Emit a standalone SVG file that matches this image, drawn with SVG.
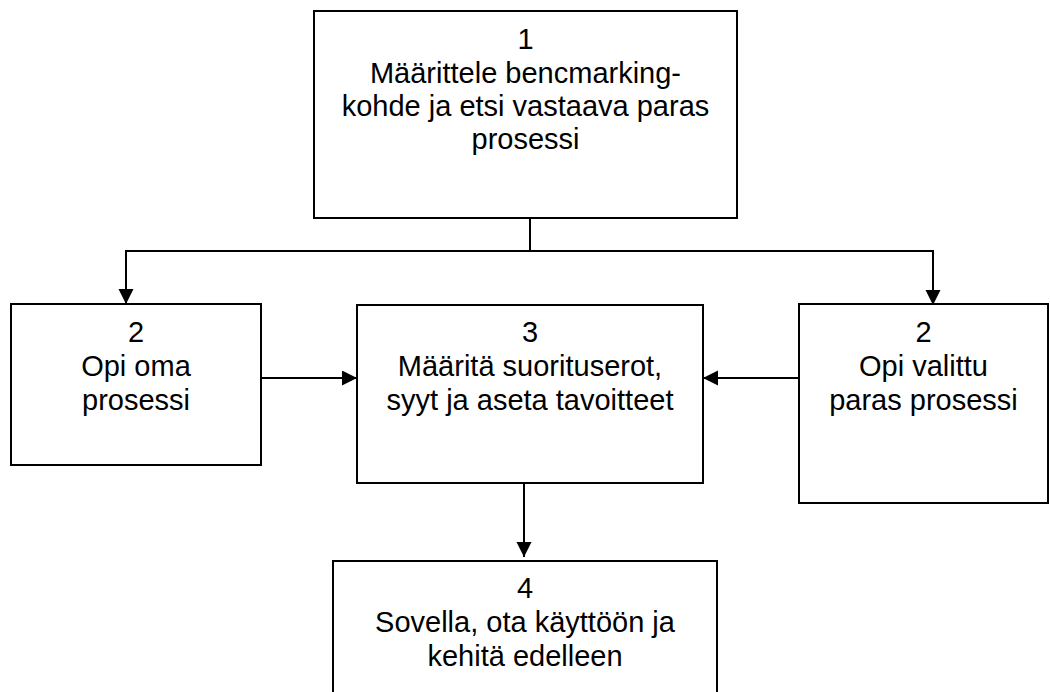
<svg xmlns="http://www.w3.org/2000/svg" width="1050" height="692" viewBox="0 0 1050 692">
  <defs>
    <marker id="arrow" markerUnits="userSpaceOnUse" markerWidth="16" markerHeight="16" refX="15" refY="7.5" orient="auto">
      <path d="M0,0 L15,7.5 L0,15 z" fill="#000"/>
    </marker>
    <style>
      .box { fill: #fff; stroke: #000; stroke-width: 2; }
      .lbl { font-family: "Liberation Sans", Arial, sans-serif; font-size: 29px; fill: #000; text-anchor: middle; }
      .conn { fill: none; stroke: #000; stroke-width: 2; }
    </style>
  </defs>
  <rect width="1050" height="692" fill="#fff"/>

  <g id="connectors">
    <path class="conn" d="M530,218 V251 H126 V304" marker-end="url(#arrow)"/>
    <path class="conn" d="M530,251 H933 V305" marker-end="url(#arrow)"/>
    <path class="conn" d="M261,378 H357" marker-end="url(#arrow)"/>
    <path class="conn" d="M799,378 H703" marker-end="url(#arrow)"/>
    <path class="conn" d="M524,483 V557" marker-end="url(#arrow)"/>
  </g>

  <g id="node1">
    <rect class="box" x="314" y="11" width="423" height="207"/>
    <text class="lbl" x="525.5" y="49">1</text>
    <text class="lbl" x="525.5" y="83">Määrittele bencmarking-</text>
    <text class="lbl" x="525.5" y="116">kohde ja etsi vastaava paras</text>
    <text class="lbl" x="525.5" y="149">prosessi</text>
  </g>

  <g id="node2a">
    <rect class="box" x="11" y="304" width="250" height="161"/>
    <text class="lbl" x="136" y="342">2</text>
    <text class="lbl" x="136" y="376">Opi oma</text>
    <text class="lbl" x="136" y="410">prosessi</text>
  </g>

  <g id="node3">
    <rect class="box" x="357" y="305" width="346" height="178"/>
    <text class="lbl" x="530" y="342">3</text>
    <text class="lbl" x="530" y="376">Määritä suorituserot,</text>
    <text class="lbl" x="530" y="410">syyt ja aseta tavoitteet</text>
  </g>

  <g id="node2b">
    <rect class="box" x="799" y="304" width="249" height="199"/>
    <text class="lbl" x="923.5" y="342">2</text>
    <text class="lbl" x="923.5" y="376">Opi valittu</text>
    <text class="lbl" x="923.5" y="410">paras prosessi</text>
  </g>

  <g id="node4">
    <rect class="box" x="333" y="561" width="384" height="160"/>
    <text class="lbl" x="525" y="598">4</text>
    <text class="lbl" x="525" y="632">Sovella, ota käyttöön ja</text>
    <text class="lbl" x="525" y="666">kehitä edelleen</text>
  </g>
</svg>
